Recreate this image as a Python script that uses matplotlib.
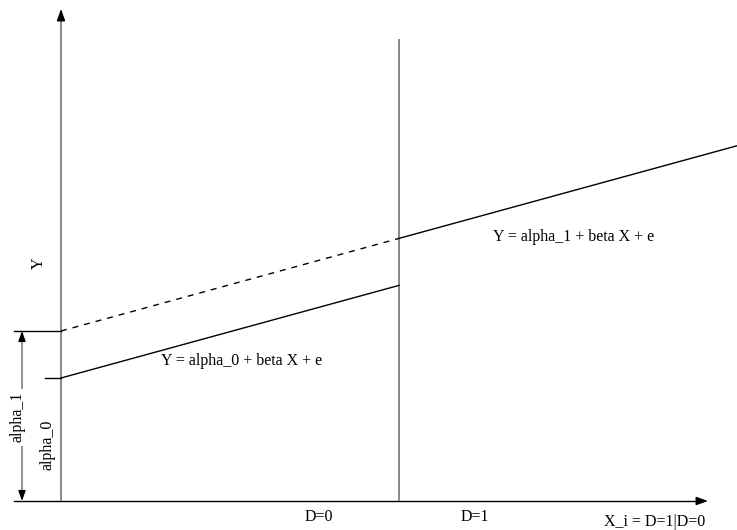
import matplotlib
matplotlib.use("Agg")
import matplotlib.pyplot as plt

# Conceptual model values (in diagram units, origin at axes crossing)
alpha_0 = 123.0          # intercept for D=0
alpha_1 = 170.0          # intercept for D=1
beta = 0.274             # common slope
d_boundary = 338.0       # X position where D switches from 0 to 1
x_end = 676.0            # right end of the D=1 segment
x_axis_end = 647.0
y_axis_end = 492.0

eq0_label = "Y = alpha_0 + beta X + e"
eq1_label = "Y = alpha_1 + beta X + e"
xtick_labels = ["D=0", "D=1"]
xlabel = "X_i = D=1|D=0"
ylabel = "Y"

plt.rcParams['font.family'] = ['Liberation Serif', 'DejaVu Serif']

fig = plt.figure(figsize=(7.37, 5.30), dpi=100)
ax = fig.add_axes([0, 0, 1, 1])
ax.set_xlim(-61, 676)
ax.set_ylim(-29, 501)
ax.axis('off')

grey = '#7f7f7f'
fs = 11.5

def head(x_tip, y_tip, x_from, y_from, ms=12):
    ax.annotate('', xy=(x_tip, y_tip), xytext=(x_from, y_from),
                arrowprops=dict(arrowstyle='-|>,head_length=0.5,head_width=0.18',
                                color='black', lw=1.0,
                                mutation_scale=ms, shrinkA=0, shrinkB=0))

# X axis (black) with arrow
ax.plot([-47, x_axis_end - 6], [0, 0], color='black', lw=1.0)
head(x_axis_end, 0, x_axis_end - 8, 0, ms=14)
# Y axis (grey line, black head)
ax.plot([0, 0], [0, y_axis_end - 6], color=grey, lw=1.3, solid_capstyle='butt')
head(0, y_axis_end, 0, y_axis_end - 8, ms=14)

# D boundary vertical line
ax.plot([d_boundary, d_boundary], [0, 462], color=grey, lw=1.3, solid_capstyle='butt')

# Regression lines
x0 = [0, d_boundary]
ax.plot(x0, [alpha_0 + beta * x for x in x0], color='black', lw=1.0)
ax.plot(x0, [alpha_1 + beta * x for x in x0], color='black', lw=1.0,
        dashes=(4.3, 4.3))
x1 = [d_boundary, x_end]
ax.plot(x1, [alpha_1 + beta * x for x in x1], color='black', lw=1.0)

# Intercept ticks
ax.plot([-47, 0], [alpha_1, alpha_1], color='black', lw=1.0)
ax.plot([-16, 0], [alpha_0, alpha_0], color='black', lw=1.0)

# alpha_1 double arrow (with gap for label)
ax_x = -39
ax.plot([ax_x, ax_x], [112, alpha_1 - 5], color=grey, lw=1.2, solid_capstyle='butt')
ax.plot([ax_x, ax_x], [5, 55], color=grey, lw=1.2, solid_capstyle='butt')
head(ax_x, alpha_1, ax_x, alpha_1 - 8, ms=12)
head(ax_x, 0, ax_x, 8, ms=12)
ax.text(-44, 84, 'alpha_1', rotation=90, ha='center', va='center', fontsize=fs)
ax.text(-13, 56, 'alpha_0', rotation=90, ha='center', va='center', fontsize=fs)

# Labels
ax.text(-22.5, 238, ylabel, rotation=90, ha='center', va='center', fontsize=fs)
ax.text(181, 140, eq0_label, ha='center', va='center', fontsize=fs)
ax.text(513, 264, eq1_label, ha='center', va='center', fontsize=fs)
ax.text(258, -16, xtick_labels[0], ha='center', va='center', fontsize=fs)
ax.text(414, -16, xtick_labels[1], ha='center', va='center', fontsize=fs)
ax.text(593.5, -21, xlabel, ha='center', va='center', fontsize=fs)

fig.savefig('out.png', dpi=100)
